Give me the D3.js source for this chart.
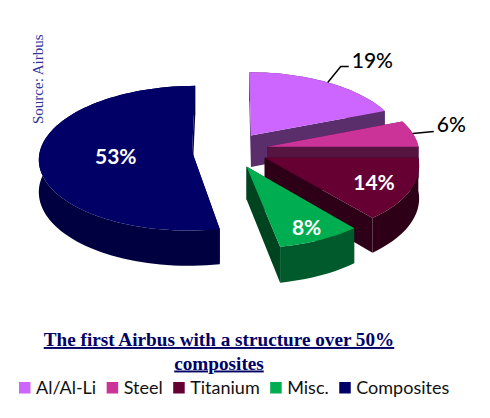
<!DOCTYPE html>
<html><head><meta charset="utf-8">
<style>html,body{margin:0;padding:0;background:#fff}svg{display:block}</style>
<script src="https://cdn.jsdelivr.net/npm/d3@7"></script></head>
<body><svg id="c" width="490" height="418"></svg>
<script>
const categories = ["Al/Al-Li","Steel","Titanium","Misc.","Composites"];
const values = [19,6,14,8,53];
const topColors = ["#cc66ff","#cc3399","#660033","#00ad50","#000066"];
const cutColors = ["#5a2d6b","#561540","#2d0017","#00441f","#000040"];
const arcColors = ["#5a2d6b","#561540","#2d0017","#005a2b","#000040"];
const labelReach = [1,1,0.757,0.83,0.5];
const titleLines = ["The first Airbus with a structure over 50%","composites"];
const source = "Source: Airbus";

const W=490,H=418,cx=230,cy=150,R=152,D=38,tilt=0.47,persp=0.00059,depth=32;
const svg=d3.select("#c");
const project=(X,Y,h=0)=>{const s=1/(1-Y*persp);return [cx+X*s,cy+Y*tilt*s+h*s];};
const plane=(a,dist,mid)=>{
  const ox=Math.sin(mid)*D,oy=-Math.cos(mid)*D;
  return [ox+Math.sin(a)*dist,oy-Math.cos(a)*dist];
};
const arcs=d3.pie().sort(null)(values);
const line=d3.line();
const g=svg.append("g");
arcs.forEach((d,i)=>{
  const mid=(d.startAngle+d.endAngle)/2;
  const n=Math.ceil((d.endAngle-d.startAngle)/0.04);
  const apex=plane(0,0,mid);
  const rim=d3.range(n+1).map(k=>plane(d3.interpolate(d.startAngle,d.endAngle)(k/n),R,mid));
  const up=p=>project(p[0],p[1]), down=p=>project(p[0],p[1],depth);
  const sl=g.append("g").attr("class","slice");
  const wall=(pts,col)=>sl.append("path").attr("d",line(pts)+"Z").attr("fill",col);
  const a=rim[0], b=rim[rim.length-1];
  wall([up(apex),up(a),down(a),down(apex)],cutColors[i]);
  wall([up(apex),up(b),down(b),down(apex)],cutColors[i]);
  wall([...rim.map(up),...rim.slice().reverse().map(down)],arcColors[i]);
  sl.append("path").attr("d",line([apex,...rim].map(up))+"Z").attr("fill",topColors[i]);
});
// labels
const labelFont="Lato, 'Open Sans', sans-serif";
arcs.forEach((d,i)=>{
  const mid=(d.startAngle+d.endAngle)/2;
  const p=plane(mid,R*labelReach[i],mid);
  const [x,y]=project(p[0],p[1]);
  const txt=values[i]+"%";
  if(labelReach[i]<1){
    svg.append("text").attr("x",x).attr("y",y).attr("text-anchor","middle").attr("dominant-baseline","central")
      .attr("font-family",labelFont).attr("font-weight",700).attr("font-size",21).attr("fill","#fff").text(txt);
  } else {
    const out=i===0?[[x+13,y-16],[x+21,y-16]]:[[x+21,y-2]];
    svg.append("path").attr("d",line([[x,y],...out])).attr("fill","none").attr("stroke","#000").attr("stroke-width",1.5);
    const e=out[out.length-1];
    svg.append("text").attr("x",e[0]+3).attr("y",e[1]-(i===0?7:8)).attr("dominant-baseline","central")
      .attr("font-family",labelFont).attr("font-weight",500).attr("font-size",21).attr("fill","#000").text(txt);
  }
});
// source
svg.append("text").attr("transform","translate(43,124) rotate(-90)")
  .attr("font-family","'Liberation Serif',serif").attr("font-size",15).attr("fill","#333399").text(source);
// title
svg.selectAll("text.title").data(titleLines).join("text").attr("class","title")
  .attr("x",219).attr("y",(d,i)=>346+i*23.5).attr("text-anchor","middle")
  .attr("font-family","'Liberation Serif',serif").attr("font-weight",700).attr("font-size",19.2)
  .attr("fill","#000066").attr("text-decoration","underline").style("text-decoration-color","#666699").text(d=>d);
// legend
let lx=19;
const lg=svg.append("g");
categories.forEach((c,i)=>{
  lg.append("rect").attr("x",lx).attr("y",382).attr("width",11.5).attr("height",11.5).attr("fill",topColors[i]);
  const t=lg.append("text").attr("x",lx+17).attr("y",394).attr("font-family",labelFont).attr("font-size",18).attr("fill","#111").text(c);
  lx+=17+t.node().getComputedTextLength()+10.5;
});
</script></body></html>
